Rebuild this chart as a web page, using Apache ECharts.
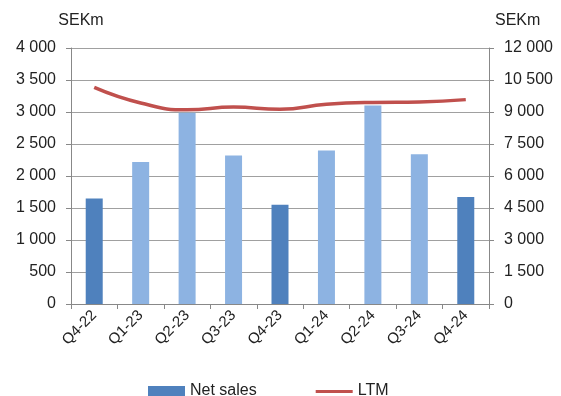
<!DOCTYPE html>
<html>
<head>
<meta charset="utf-8">
<script src="https://cdn.jsdelivr.net/npm/echarts@6/dist/echarts.min.js"></script>
<style>
html, body { margin: 0; padding: 0; background: #fff; }
#main { width: 561px; height: 396px; }
</style>
</head>
<body>
<div id="main"></div>
<script>
// quarters and values (SEKm)
var quarters = ['Q4-22', 'Q1-23', 'Q2-23', 'Q3-23', 'Q4-23', 'Q1-24', 'Q2-24', 'Q3-24', 'Q4-24'];
var netSales = [1650, 2220, 2990, 2320, 1550, 2400, 3100, 2340, 1670];
var ltm = [10150, 9420, 9100, 9230, 9130, 9360, 9450, 9470, 9580];

var darkBlue = '#4f81bd';
var lightBlue = '#8db3e2';
var red = '#c0504d';
var fontName = 'Liberation Sans';

function fmt(v) {
	return v >= 1000 ? Math.floor(v / 1000) + ' ' + ('00' + v % 1000).slice(-3) : v;
}

var myChart = echarts.init(document.getElementById('main'));
var option = {
	animation: false,
	textStyle: { fontFamily: fontName },
	grid: { left: 71, right: 72, top: 48, bottom: 92 },
	legend: {
		top: 378,
		left: 143,
		itemGap: 59,
		itemWidth: 37,
		itemHeight: 10,
		textStyle: { fontSize: 16, color: '#222', fontFamily: fontName },
		data: [
			{ name: 'Net sales', icon: 'rect', itemStyle: { color: darkBlue } },
			// thin line icon; the empty moves keep the full 37x10 box
			{ name: 'LTM', icon: 'path://M0,0 L0,0 M0,4 L37,4 L37,7 L0,7 Z M37,10 L37,10', itemStyle: { color: red } }
		]
	},
	xAxis: {
		type: 'category',
		data: quarters,
		axisLine: { lineStyle: { color: '#888' } },
		axisTick: { show: true, length: 5, lineStyle: { color: '#888' } },
		axisLabel: { rotate: 45, fontSize: 15, color: '#222', margin: 9 }
	},
	yAxis: [{
		type: 'value',
		min: 0, max: 4000, interval: 500,
		name: 'SEKm',
		nameLocation: 'end',
		nameGap: 19,
		nameTextStyle: { fontSize: 16, color: '#222', align: 'center', padding: [0, 0, 0, 20] },
		axisLine: { show: true, lineStyle: { color: '#888' } },
		axisTick: { show: true, length: 5, lineStyle: { color: '#888' } },
		splitLine: { lineStyle: { color: '#a0a0a0' } },
		axisLabel: { fontSize: 16, color: '#222', margin: 15, formatter: fmt }
	}, {
		type: 'value',
		min: 0, max: 12000, interval: 1500,
		name: 'SEKm',
		nameLocation: 'end',
		nameGap: 19,
		nameTextStyle: { fontSize: 16, color: '#222', align: 'left', padding: [0, 0, 0, 6] },
		axisLine: { show: true, lineStyle: { color: '#888' } },
		axisTick: { show: true, length: 5, lineStyle: { color: '#888' } },
		splitLine: { show: false },
		axisLabel: { fontSize: 16, color: '#222', margin: 15, formatter: fmt }
	}],
	series: [{
		name: 'Net sales',
		type: 'bar',
		barWidth: 17,
		data: netSales,
		itemStyle: {
			color: function (p) { return quarters[p.dataIndex].indexOf('Q4') === 0 ? darkBlue : lightBlue; }
		}
	}, {
		name: 'LTM',
		type: 'line',
		yAxisIndex: 1,
		smooth: true,
		symbol: 'none',
		data: ltm,
		lineStyle: { color: red, width: 3.5 },
		itemStyle: { color: red }
	}]
};
myChart.setOption(option);
</script>
</body>
</html>
